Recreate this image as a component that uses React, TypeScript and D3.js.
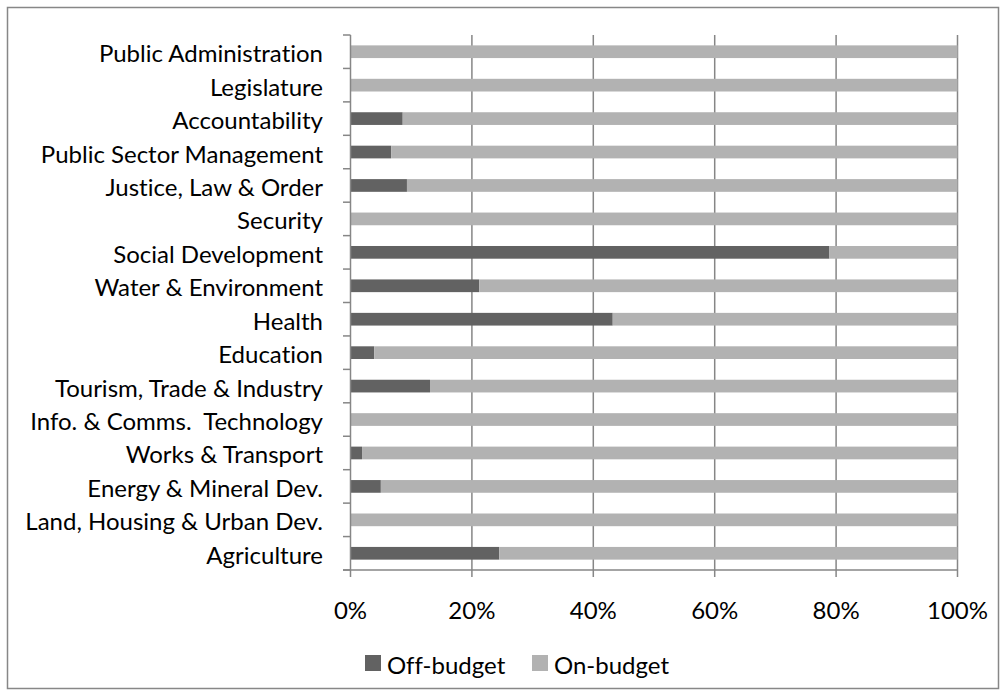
import React from "react";
import * as d3 from "d3";

const categories = [
  "Public Administration",
  "Legislature",
  "Accountability",
  "Public Sector Management",
  "Justice, Law & Order",
  "Security",
  "Social Development",
  "Water & Environment",
  "Health",
  "Education",
  "Tourism, Trade & Industry",
  "Info. & Comms.  Technology",
  "Works & Transport",
  "Energy & Mineral Dev.",
  "Land, Housing & Urban Dev.",
  "Agriculture",
];
const offBudget = [0, 0, 8.6, 6.7, 9.3, 0, 78.9, 21.2, 43.2, 3.9, 13.1, 0, 1.9, 5.0, 0, 24.5];
const onBudget = offBudget.map((v) => 100 - v);
const xTicks = [0, 20, 40, 60, 80, 100];
const seriesNames = ["Off-budget", "On-budget"];
const seriesColors = ["#626262", "#b2b2b2"];

const W = 1005;
const H = 695;
const FONT = "Lato, 'Open Sans', sans-serif";
const FS = 24;

export default function App() {
  const x = d3.scaleLinear().domain([0, 100]).range([350.5, 957.5]);
  const y = d3.scaleBand<string>().domain(categories).range([35, 570]).paddingInner(0.62).paddingOuter(0.31);
  const band = (570 - 35) / categories.length;
  const stack = d3.stack<any>().keys(["off", "on"])(
    categories.map((c, i) => ({ cat: c, off: offBudget[i], on: onBudget[i] }))
  );
  const grid = "#868686";
  return (
    <div style={{ position: "absolute", left: 0, top: 0 }}>
      <svg
        width={W}
        height={H}
        style={{ display: "block", fontFamily: FONT, fontVariantLigatures: "none" }}
      >
        <rect x={0} y={0} width={W} height={H} fill="#fff" />
        <rect x={7.5} y={7.5} width={991} height={681} fill="none" stroke="#878787" strokeWidth={1.5} />
        {xTicks.slice(1).map((t) => (
          <line key={t} x1={x(t)} x2={x(t)} y1={35} y2={577} stroke={grid} strokeWidth={1.5} />
        ))}
        {stack.map((s, si) =>
          s.map((d, i) => (
            <rect
              key={si + "-" + i}
              x={x(d[0])}
              y={y(categories[i])!}
              width={Math.max(0, x(d[1]) - x(d[0]))}
              height={y.bandwidth()}
              fill={seriesColors[si]}
            />
          ))
        )}
        <line x1={350.5} x2={350.5} y1={35} y2={577} stroke={grid} strokeWidth={1.5} />
        {d3.range(categories.length + 1).map((i) => (
          <line key={i} x1={343} x2={350.5} y1={35 + i * band} y2={35 + i * band} stroke={grid} strokeWidth={1.5} />
        ))}
        <line x1={343} x2={957.5} y1={570} y2={570} stroke={grid} strokeWidth={1.5} />
        {categories.map((c) => (
          <text
            key={c}
            x={323}
            y={y(c)! + y.bandwidth() / 2 + 1}
            textAnchor="end"
            dominantBaseline="central"
            fontSize={FS}
            fill="#000"
            style={{ whiteSpace: "pre" }}
          >
            {c}
          </text>
        ))}
        {xTicks.map((t) => (
          <text key={t} x={x(t)} y={609} textAnchor="middle" dominantBaseline="central" fontSize={FS} fill="#000">
            {t + "%"}
          </text>
        ))}
        {seriesNames.map((n, i) => {
          const lx = i === 0 ? 365 : 532;
          return (
            <g key={n}>
              <rect x={lx} y={655} width={16} height={16} fill={seriesColors[i]} />
              <text x={lx + 22} y={664} dominantBaseline="central" fontSize={FS} fill="#000">
                {n}
              </text>
            </g>
          );
        })}
      </svg>
    </div>
  );
}
